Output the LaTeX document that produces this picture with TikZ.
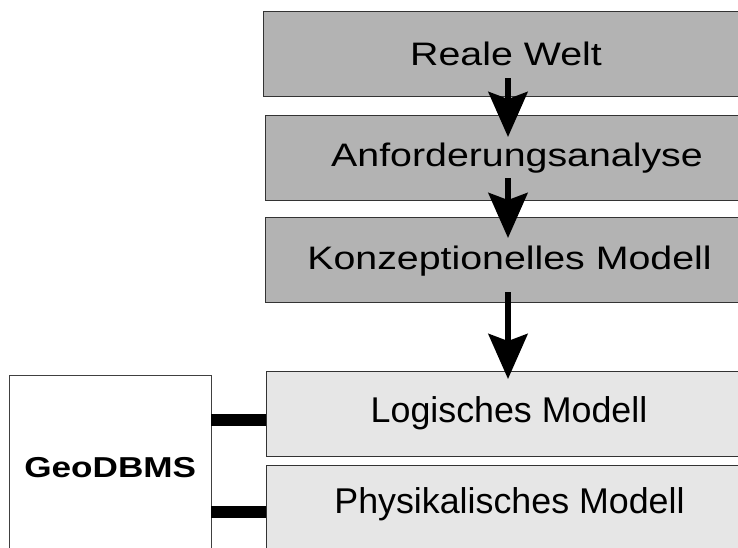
\documentclass[tikz,border=0pt]{standalone}
\usepackage{fontspec}
\setmainfont{Liberation Sans}
\usetikzlibrary{arrows.meta}
\definecolor{stagegray}{HTML}{B3B3B3}
\definecolor{modelgray}{HTML}{E6E6E6}
\newcommand\widetext[1]{\scalebox{1.21}[1]{#1}}
\tikzset{
  stage/.style={draw=black!80, line width=1pt, fill=stagegray,
    inner sep=0pt, outer sep=0pt, minimum height=85pt,
    text height=23.3pt, font=\fontsize{32.5}{34}\selectfont},
  model/.style={stage, fill=modelgray, text height=25.6pt,
    font=\fontsize{35.8}{38}\selectfont},
  dbms/.style={draw=black!75, line width=1pt, fill=white,
    inner sep=0pt, outer sep=0pt, minimum width=202pt, minimum height=185pt,
    text height=20.6pt, text depth=0pt, font=\bfseries\fontsize{28.8}{30}\selectfont},
  flow/.style={line width=6pt, -{Stealth[length=45pt,width=39pt,inset=7pt]}},
  link/.style={line width=12pt},
}
\begin{document}
\begin{tikzpicture}[x=1pt, y=-1pt]
  \useasboundingbox (0,0) rectangle (738,547);
  \clip (0,0) rectangle (738,547);

  % workflow stages (boxes run off the right edge)
  \node[stage, minimum width=486pt, text depth=0pt] (welt) at (506,53.5) {\widetext{Reale Welt}};
  \node[stage, minimum width=504pt, text depth=5pt] (anf) at (517,157.5) {\widetext{Anforderungsanalyse}};
  \node[stage, minimum width=489pt, text depth=3pt] (konz) at (509.5,259.5) {\widetext{Konzeptionelles Modell}};
  \node[model, minimum width=486pt, text depth=8pt] (log) at (509,413.5) {Logisches Modell};
  \node[model, minimum width=487pt, text depth=13pt] (phys) at (509.5,507.5) {Physikalisches Modell};

  % database system on the left
  \node[dbms] (geo) at (110.2,467.5) {\scalebox{1.22}[1]{GeoDBMS}};

  % arrows along the vertical axis
  \coordinate (axis) at (508,0);
  \draw[flow, shorten <=-18pt, shorten >=-22pt] (welt.south -| axis) -- (anf.north -| axis);
  \draw[flow, shorten <=-22pt, shorten >=-21pt] (anf.south -| axis) -- (konz.north -| axis);
  \draw[flow, shorten <=-10pt, shorten >=-8pt] (konz.south -| axis) -- (log.north -| axis);

  % connections between GeoDBMS and the model levels
  \draw[link] (geo.east |- 0,420) -- (log.west |- 0,420);
  \draw[link] (geo.east |- 0,512) -- (phys.west |- 0,512);
\end{tikzpicture}
\end{document}
